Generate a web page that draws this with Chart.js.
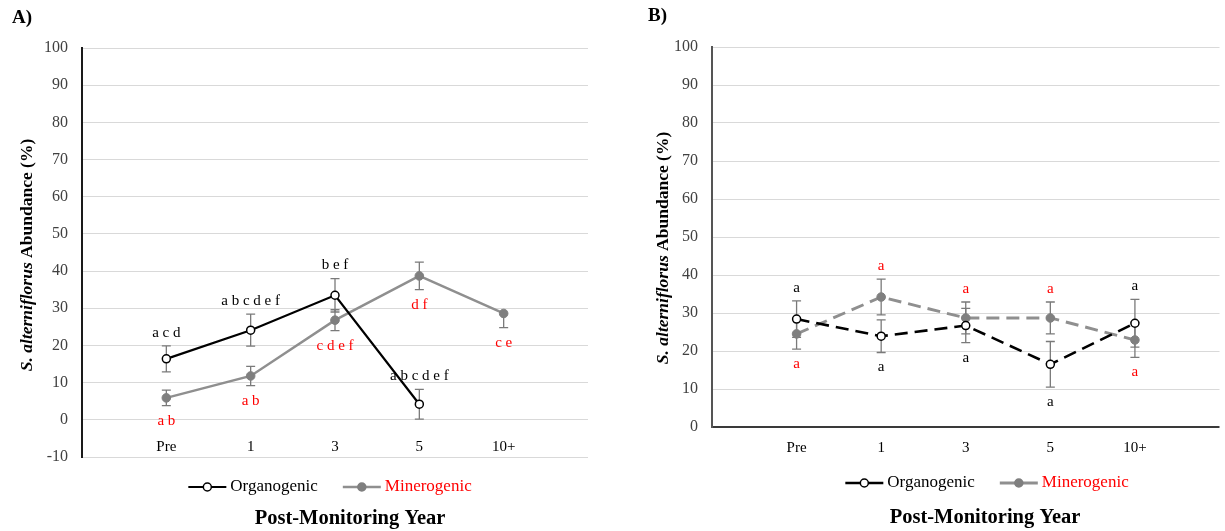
<!DOCTYPE html>
<html>
<head>
<meta charset="utf-8">
<script src="https://cdn.jsdelivr.net/npm/chart.js@4.4.0/dist/chart.umd.min.js"></script>
<style>
  body { margin: 0; background: #fff; }
  #wrap { position: relative; width: 1225px; height: 531px; }
  canvas { position: absolute; top: 0; }
</style>
</head>
<body>
<div id="wrap">
  <canvas id="chartA" width="612" height="531" style="left:0"></canvas>
  <canvas id="chartB" width="613" height="531" style="left:612px"></canvas>
</div>
<script>
// categories
const years = ["Pre", "1", "3", "5", "10+"];

// panel A - mean abundance (%) and standard error
const orgA = [16.4, 24.1, 33.5, 4.2, null];
const orgAErr = [3.5, 4.3, 4.5, 4.0, null];
const orgALetters = ["a c d", "a b c d e f", "b e f", "a b c d e f", ""];
const minA = [5.9, 11.8, 26.8, 38.7, 28.6];
const minAErr = [2.1, 2.6, 2.8, 3.7, [3.8, 0]]; // 10+ only has a lower whisker
const minALetters = ["a b", "a b", "c d e f", "d f", "c e"];

// panel B
const orgB = [28.4, 23.9, 26.7, 16.5, 27.3];
const orgBErr = [4.8, 4.3, 4.5, 6.0, 6.3];
const orgBLetters = ["a", "a", "a", "a", "a"];
const minB = [24.5, 34.2, 28.7, 28.7, 22.9];
const minBErr = [4.0, 4.7, 4.2, 4.2, 4.6];
const minBLetters = ["a", "a", "a", "a", "a"];

const yRangeA = [-10, 100];
const yRangeB = [0, 100];
const yStep = 10;

const SERIF = '"Liberation Serif", "Times New Roman", serif';
const BLACK = "#000000";
const GREY = "#8f8f8f";
const RED = "#ff0000";

function pad(arr) { return [null, ...arr, null]; } // empty slot each side of the categories
function errPair(e) { return Array.isArray(e) ? e : [e, e]; }

// error bars, letters, category labels, legend and titles
const extras = {
  id: "extras",
  beforeDatasetsDraw(chart) {
    const o = chart.options.plugins.extras;
    const x = chart.scales.x, y = chart.scales.y, ctx = chart.ctx;
    ctx.save();
    ctx.strokeStyle = "#7a7a7a";
    ctx.lineWidth = 1.3;
    o.series.forEach(s => {
      s.values.forEach((v, i) => {
        if (v == null || s.err[i] == null) return;
        const [lo, hi] = errPair(s.err[i]);
        const px = x.getPixelForValue(i + 1);
        const yLo = y.getPixelForValue(v - lo), yHi = y.getPixelForValue(v + hi);
        ctx.beginPath();
        ctx.moveTo(px, yLo); ctx.lineTo(px, yHi);
        if (lo) { ctx.moveTo(px - 4.5, yLo); ctx.lineTo(px + 4.5, yLo); }
        if (hi) { ctx.moveTo(px - 4.5, yHi); ctx.lineTo(px + 4.5, yHi); }
        ctx.stroke();
      });
    });
    ctx.restore();
  },
  afterDraw(chart) {
    const o = chart.options.plugins.extras;
    const x = chart.scales.x, y = chart.scales.y, ctx = chart.ctx;
    ctx.save();
    ctx.textBaseline = "middle";
    ctx.textAlign = "center";

    // significance letters
    ctx.font = "15px " + SERIF;
    o.series.forEach(s => {
      s.values.forEach((v, i) => {
        if (v == null || !s.letters[i]) return;
        const [lo, hi] = errPair(s.err[i]);
        const px = x.getPixelForValue(i + 1);
        ctx.fillStyle = s.letterColor;
        if (s.place[i] === "above") ctx.fillText(s.letters[i], px, y.getPixelForValue(v + hi) - 13);
        else ctx.fillText(s.letters[i], px, y.getPixelForValue(v - lo) + 15);
      });
    });

    // category labels under the zero line
    ctx.font = "15px " + SERIF;
    ctx.fillStyle = BLACK;
    const y0 = y.getPixelForValue(0) + o.catOffset;
    years.forEach((c, i) => ctx.fillText(c, x.getPixelForValue(i + 1), y0));

    // legend
    ctx.font = "17px " + SERIF;
    ctx.textAlign = "left";
    const items = chart.data.datasets.map(d => ({ d, w: 38 + 4 + ctx.measureText(d.label).width }));
    const gap = 25;
    let lx = o.legendX - (items.reduce((a, b) => a + b.w, 0) + gap) / 2;
    items.forEach(({ d, w }) => {
      ctx.setLineDash([]);
      ctx.strokeStyle = d.borderColor;
      ctx.lineWidth = d.borderWidth;
      ctx.beginPath(); ctx.moveTo(lx, o.legendY); ctx.lineTo(lx + 38, o.legendY); ctx.stroke();
      ctx.beginPath(); ctx.arc(lx + 19, o.legendY, 4, 0, Math.PI * 2);
      ctx.fillStyle = d.pointBackgroundColor; ctx.fill();
      ctx.lineWidth = 1.5; ctx.strokeStyle = d.pointBorderColor; ctx.stroke();
      ctx.fillStyle = d.labelColor;
      ctx.fillText(d.label, lx + 42, o.legendY);
      lx += w + gap;
    });

    // x axis title
    ctx.textAlign = "center";
    ctx.fillStyle = BLACK;
    ctx.font = "bold 20.5px " + SERIF;
    ctx.fillText("Post-Monitoring Year", o.xTitleX, o.xTitleY);

    // panel letter
    ctx.textAlign = "left";
    ctx.font = "bold 19px " + SERIF;
    ctx.fillText(o.panel, o.panelX, o.panelY);

    // y axis title, italic species name
    ctx.translate(o.yTitleX, o.yTitleY);
    ctx.rotate(-Math.PI / 2);
    const p1 = "S. alterniflorus ", p2 = "Abundance (%)";
    const f1 = "italic bold 17.5px " + SERIF, f2 = "bold 17.5px " + SERIF;
    ctx.font = f1;
    const w1 = ctx.measureText(p1).width;
    ctx.font = f2;
    const w2 = ctx.measureText(p2).width;
    const sx = -(w1 + w2) / 2;
    ctx.font = f1;
    ctx.fillText(p1, sx, 0);
    ctx.font = f2;
    ctx.fillText(p2, sx + w1, 0);
    ctx.restore();
  }
};

function makeChart(id, p) {
  const orgStyle = {
    label: "Organogenic", labelColor: BLACK,
    borderColor: BLACK, borderWidth: p.lineWidth, borderDash: p.dash,
    pointBackgroundColor: "#ffffff", pointBorderColor: BLACK,
    pointBorderWidth: 1.5, pointRadius: 4
  };
  const minStyle = {
    label: "Minerogenic", labelColor: RED,
    borderColor: GREY, borderWidth: p.lineWidth + 0.3, borderDash: p.dash,
    pointBackgroundColor: "#7f7f7f", pointBorderColor: "#7f7f7f",
    pointBorderWidth: 1, pointRadius: 4.3
  };
  return new Chart(document.getElementById(id), {
    type: "line",
    data: {
      labels: ["", ...years, ""],
      datasets: [
        Object.assign({ data: pad(p.org) }, orgStyle),
        Object.assign({ data: pad(p.min) }, minStyle)
      ]
    },
    options: {
      responsive: false,
      animation: false,
      devicePixelRatio: 1,
      layout: { padding: p.padding },
      scales: {
        x: { type: "category", offset: false, display: false },
        y: {
          min: p.yRange[0], max: p.yRange[1],
          afterFit(scale) { scale.width = 40; },
          ticks: { stepSize: yStep, padding: 14, color: "#404040", font: { family: SERIF, size: 16 } },
          grid: {
            drawTicks: false,
            color: c => (p.darkZero && c.tick.value === 0) ? "#3a3a3a" : "#d9d9d9",
            lineWidth: c => (p.darkZero && c.tick.value === 0) ? 2 : 1
          },
          border: { color: p.axisColor, width: 2 }
        }
      },
      plugins: {
        legend: { display: false },
        tooltip: { enabled: false },
        extras: {
          series: [
            { values: p.org, err: p.orgErr, letters: p.orgLetters, place: p.orgPlace, letterColor: BLACK },
            { values: p.min, err: p.minErr, letters: p.minLetters, place: p.minPlace, letterColor: RED }
          ],
          catOffset: p.catOffset,
          legendX: p.legendX, legendY: p.legendY,
          xTitleX: p.xTitleX, xTitleY: p.xTitleY,
          yTitleX: p.yTitleX, yTitleY: p.yTitleY,
          panel: p.panel, panelX: p.panelX, panelY: p.panelY
        }
      }
    },
    plugins: [extras]
  });
}

makeChart("chartA", {
  org: orgA, orgErr: orgAErr, orgLetters: orgALetters,
  min: minA, minErr: minAErr, minLetters: minALetters,
  orgPlace: ["above", "above", "above", "above", "above"],
  minPlace: ["below", "below", "below", "below", "below"],
  dash: [], lineWidth: 2.2, yRange: yRangeA, darkZero: false, axisColor: "#1a1a1a",
  padding: { left: 42, right: 24, top: 48, bottom: 74 },
  catOffset: 27, legendX: 330, legendY: 487, xTitleX: 350, xTitleY: 519,
  yTitleX: 27, yTitleY: 255, panel: "A)", panelX: 12, panelY: 18
});

makeChart("chartB", {
  org: orgB, orgErr: orgBErr, orgLetters: orgBLetters,
  min: minB, minErr: minBErr, minLetters: minBLetters,
  orgPlace: ["above", "below", "below", "below", "above"],
  minPlace: ["below", "above", "above", "above", "below"],
  dash: [13, 7], lineWidth: 2.6, yRange: yRangeB, darkZero: true, axisColor: "#555555",
  padding: { left: 60, right: 2, top: 47, bottom: 104 },
  catOffset: 21, legendX: 375, legendY: 483, xTitleX: 373, xTitleY: 518,
  yTitleX: 51, yTitleY: 248, panel: "B)", panelX: 36, panelY: 16
});
</script>
</body>
</html>
